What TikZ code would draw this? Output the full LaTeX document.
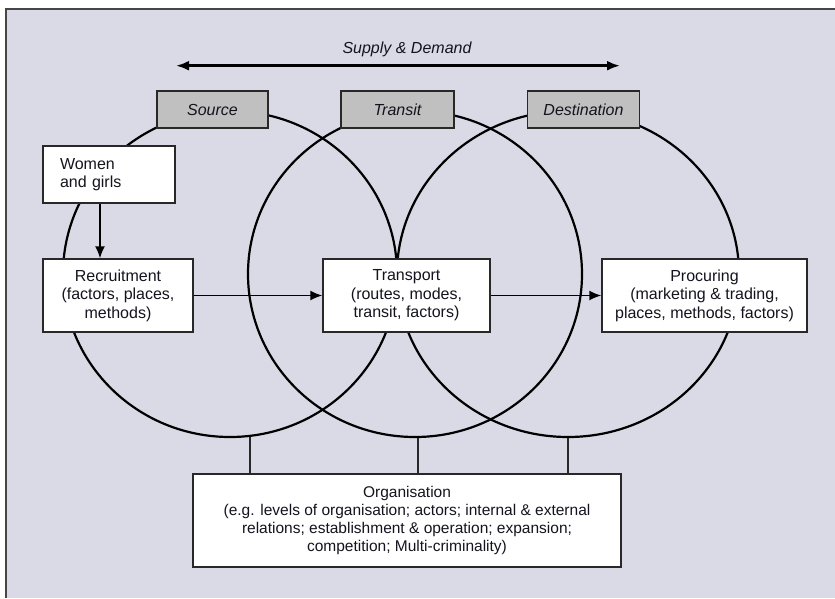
\documentclass[tikz,border=0pt]{standalone}
\usepackage{fontspec}
\setmainfont{Liberation Sans}
\usetikzlibrary{arrows.meta,shapes.geometric}
\definecolor{bgc}{RGB}{218,218,230}
\definecolor{boxgray}{RGB}{192,192,192}
\definecolor{framec}{RGB}{70,70,70}
\definecolor{edgec}{RGB}{40,40,40}
\definecolor{txtc}{RGB}{20,20,30}
\tikzset{
  ring/.style={ellipse, draw=black, line width=2.2pt, inner sep=0pt},
  headbox/.style={draw=edgec, line width=1.4pt, fill=boxgray, inner sep=0pt, text=txtc,
    font=\fontsize{16}{18.4}\selectfont\itshape},
  stagebox/.style={draw=edgec, line width=1.4pt, fill=white, inner sep=0pt, text=txtc,
    align=center, font=\fontsize{16}{18.4}\selectfont},
  orgbox/.style={draw=edgec, line width=1.4pt, fill=white, inner sep=0pt, text=txtc,
    align=center, font=\fontsize{15.5}{17.8}\selectfont},
  arr/.style={-{Latex[length=12pt,width=10pt]}, line width=1.6pt, black},
  sdarr/.style={{Latex[length=13pt,width=10pt]}-{Latex[length=13pt,width=10pt]}, line width=2.6pt, black},
  link/.style={line width=1.4pt, edgec}
}
\begin{document}
\begin{tikzpicture}[x=1pt,y=-1pt]
\useasboundingbox (0,0) rectangle (835,598);
\fill[white] (0,0) rectangle (835,598);
\fill[bgc] (6,9) rectangle (835,598);
\draw[framec, line width=1.4pt] (6,598) -- (6,9) -- (835,9);

% circles
\node[ring, minimum width=334pt, minimum height=326pt] (c1) at (230,274) {};
\node[ring, minimum width=334pt, minimum height=326pt] (c2) at (415,274) {};
\node[ring, minimum width=342pt, minimum height=326pt] (c3) at (568,274) {};

% supply & demand
\node[font=\fontsize{16}{18.4}\selectfont\itshape, text=txtc] (sd) at (407,49) {Supply \& Demand};
\coordinate (sdL) at (176,65.7);
\coordinate (sdR) at (620,65.7);
\draw[sdarr] (sdL) -- (sdR);

% header boxes
\node[headbox, minimum width=111pt, minimum height=37pt] (src) at (212.5,109.5) {Source};
\node[headbox, minimum width=113pt, minimum height=37pt] (tra) at (397.5,109.5) {Transit};
\node[headbox, minimum width=112pt, minimum height=37pt] (dst) at (583.5,109.5) {Destination};

% stage boxes
\node[stagebox, text width=98pt, align=left, inner xsep=17pt, minimum height=57pt] (wom) at (109,174.5) {Women\\and girls};
\node[stagebox, minimum width=150pt, minimum height=73pt] (rec) at (118,295.5) {Recruitment\\(factors, places,\\methods)};
\node[stagebox, minimum width=167pt, minimum height=73pt] (trn) at (406.5,295.5) {Transport\\(routes, modes,\\transit, factors)};
\node[stagebox, minimum width=205pt, minimum height=73pt] (pro) at (704.5,295.5) {Procuring\\(marketing \& trading,\\places, methods, factors)};

% organisation
\node[orgbox, minimum width=428pt, minimum height=93pt] (org) at (407,520.5) {Organisation\\(e.g. levels of organisation; actors; internal \& external\\relations; establishment \& operation; expansion;\\competition; Multi-criminality)};

% connectors
\draw[arr] ([xshift=-9pt]wom.south) -- ([xshift=-9pt]wom.south |- rec.north);
\draw[arr] (rec.east) -- (trn.west);
\draw[arr] (trn.east) -- (pro.west);

\coordinate (b1) at (c1.-83);
\coordinate (b2) at (c2.-89);
\coordinate (b3) at (c3.-90.5);
\draw[link] (b1) -- (b1 |- org.north);
\draw[link] (b2) -- (b2 |- org.north);
\draw[link] (b3) -- (b3 |- org.north);
\end{tikzpicture}
\end{document}
